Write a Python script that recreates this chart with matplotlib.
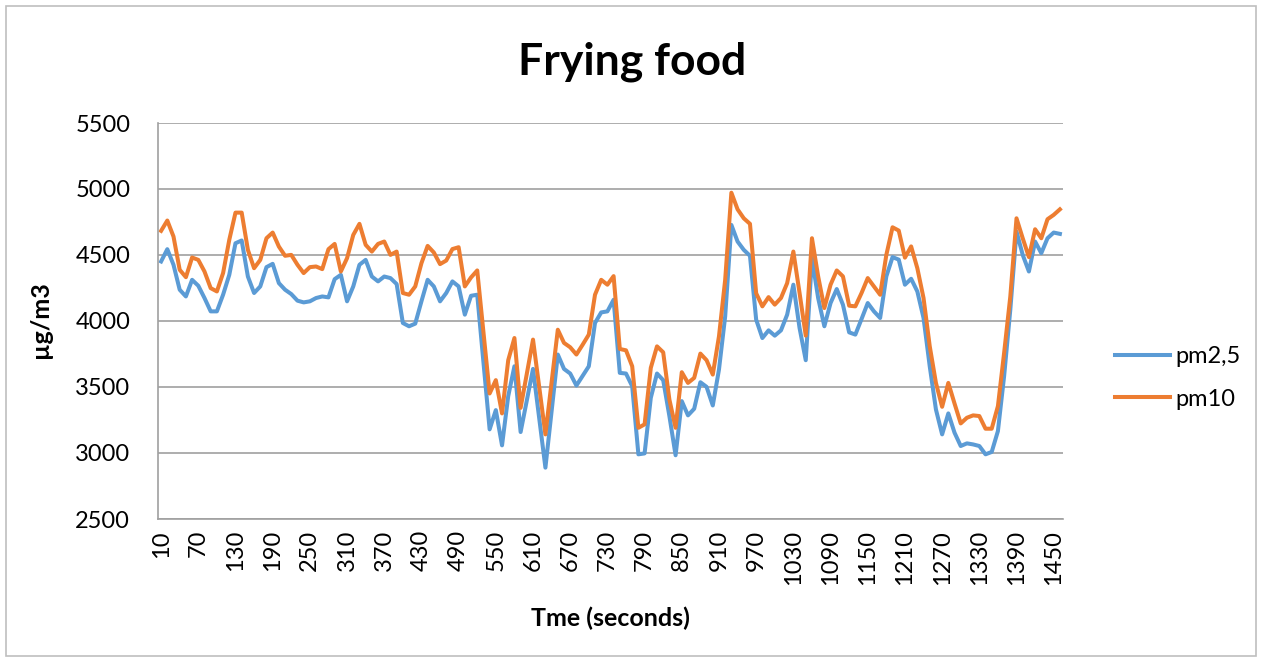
import matplotlib
matplotlib.use('Agg')
import matplotlib.pyplot as plt
from matplotlib.patches import Rectangle

plt.rcParams['font.family'] = ['Lato', 'DejaVu Sans']

# time axis (seconds), one reading every 10 s
seconds = list(range(10, 1470, 10))
tick_labels = list(range(10, 1460, 60))

pm25 = [4451, 4544, 4426, 4237, 4186, 4312, 4267, 4174, 4073, 4073,
        4199, 4350, 4589, 4610, 4337, 4212, 4262, 4408, 4433, 4287,
        4237, 4204, 4154, 4141, 4149, 4174, 4186, 4179, 4317, 4350,
        4149, 4262, 4426, 4463, 4337, 4300, 4337, 4325, 4280, 3985,
        3960, 3980, 4149, 4312, 4262, 4149, 4212, 4300, 4262, 4048,
        4191, 4199, 3688, 3179, 3325, 3058, 3431, 3657, 3159, 3398,
        3637, 3264, 2889, 3317, 3746, 3637, 3602, 3511, 3584, 3657,
        3985, 4065, 4073, 4161, 3607, 3602, 3506, 2990, 2997, 3418,
        3602, 3552, 3280, 2983, 3393, 3285, 3335, 3536, 3501, 3360,
        3632, 4035, 4728, 4602, 4539, 4494, 4010, 3871, 3929, 3889,
        3929, 4048, 4275, 3947, 3703, 4476, 4174, 3960, 4136, 4242,
        4123, 3914, 3897, 4015, 4136, 4073, 4023, 4338, 4484, 4465,
        4275, 4320, 4224, 4023, 3657, 3330, 3141, 3300, 3154, 3053,
        3073, 3065, 3053, 2990, 3008, 3166, 3582, 4086, 4678, 4501,
        4375, 4602, 4514, 4627, 4670, 4660]

pm10 = [4683, 4761, 4640, 4388, 4332, 4481, 4463, 4375, 4249, 4224,
        4363, 4615, 4821, 4821, 4539, 4400, 4463, 4627, 4670, 4564,
        4494, 4501, 4426, 4363, 4408, 4413, 4393, 4544, 4584, 4375,
        4476, 4652, 4736, 4577, 4526, 4584, 4602, 4501, 4526, 4212,
        4199, 4262, 4438, 4569, 4519, 4431, 4458, 4545, 4559, 4262,
        4330, 4383, 3920, 3451, 3552, 3300, 3703, 3871, 3342, 3602,
        3859, 3501, 3141, 3540, 3934, 3834, 3801, 3746, 3820, 3897,
        4199, 4312, 4275, 4340, 3788, 3778, 3657, 3191, 3217, 3645,
        3808, 3763, 3405, 3191, 3612, 3531, 3569, 3753, 3703, 3594,
        3884, 4312, 4972, 4846, 4778, 4736, 4210, 4111, 4181, 4124,
        4174, 4287, 4526, 4212, 3889, 4627, 4338, 4098, 4275, 4383,
        4338, 4116, 4111, 4212, 4325, 4262, 4199, 4501, 4710, 4685,
        4480, 4565, 4400, 4174, 3809, 3531, 3350, 3531, 3375, 3224,
        3267, 3285, 3280, 3184, 3184, 3355, 3758, 4186, 4778, 4627,
        4484, 4695, 4627, 4771, 4804, 4846]

fig = plt.figure(figsize=(12.64, 6.6), dpi=100)
ax = fig.add_axes([158 / 1264, 1 - 519 / 660, (1063 - 158) / 1264, (519 - 123) / 660])

# chart-area border
fig.patches.append(Rectangle((6 / 1264, 4 / 660), 1250 / 1264, 650 / 660,
                             transform=fig.transFigure, fill=False,
                             edgecolor='#BFBFBF', linewidth=1.2))

ax.plot(seconds, pm25, color='#5B9BD5', linewidth=2.9, label='pm2,5')
ax.plot(seconds, pm10, color='#ED7D31', linewidth=2.9, label='pm10')

ax.set_xlim(5, 1465)
ax.set_ylim(2500, 5500)
ax.set_yticks(range(2500, 5501, 500))
ax.set_xticks(tick_labels)
ax.set_xticklabels([str(t) for t in tick_labels], rotation=90)
ax.tick_params(axis='both', length=0, labelsize=17, colors='black')
ax.tick_params(axis='x', pad=8)
ax.tick_params(axis='y', pad=20)

ax.grid(True, axis='y', color='#A0A0A0', linewidth=1.2)
ax.set_axisbelow(True)
for side in ['top', 'right']:
    ax.spines[side].set_visible(False)
for side in ['left', 'bottom']:
    ax.spines[side].set_color('#A0A0A0')
    ax.spines[side].set_linewidth(1.2)

fig.text(632 / 1264, 1 - 62 / 660, 'Frying food', ha='center', va='center',
         fontsize=32, fontweight='bold')
fig.text(40 / 1264, 1 - 320 / 660, 'µg/m3', ha='center', va='center',
         rotation=90, fontsize=18, fontweight='bold')
fig.text(610 / 1264, 1 - 618 / 660, 'Tme (seconds)', ha='center', va='center',
         fontsize=18, fontweight='bold')

fig.legend(loc='center left', bbox_to_anchor=(1094 / 1264, 1 - 378 / 660),
           frameon=False, fontsize=17, handlelength=2.3, handletextpad=0.25,
           labelspacing=0.9)

fig.savefig('out.png', dpi=100)
